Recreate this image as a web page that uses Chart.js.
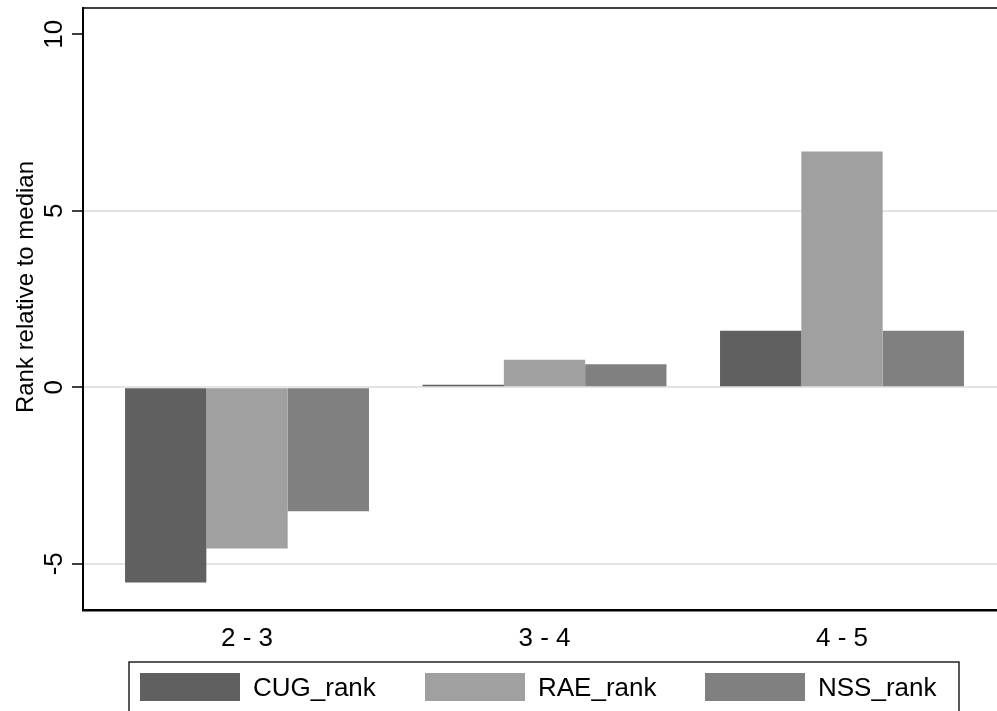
<!DOCTYPE html>
<html>
<head>
<meta charset="utf-8">
<script src="https://cdn.jsdelivr.net/npm/chart.js@4.4.1/dist/chart.umd.min.js"></script>
<style>
  html, body { margin: 0; padding: 0; background: #fff; }
  #wrap { width: 997px; height: 711px; position: relative; }
</style>
</head>
<body>
<div id="wrap"><canvas id="c"></canvas></div>
<script>
const categories = ['2 - 3', '3 - 4', '4 - 5'];
const seriesNames = ['CUG_rank', 'RAE_rank', 'NSS_rank'];
const cugRank = [-5.53, 0.07, 1.60];
const raeRank = [-4.57, 0.78, 6.68];
const nssRank = [-3.51, 0.65, 1.60];
const yTicks = [-5, 0, 5, 10];
const yTitle = 'Rank relative to median';

const FONT = "'Liberation Sans', Arial, Helvetica, sans-serif";
const colors = ['#606060', '#a0a0a0', '#808080'];
const seriesValues = [cugRank, raeRank, nssRank];

const datasets = seriesNames.map((name, s) => ({
  label: name,
  data: categories.map((c, i) => ({ x: i, y: seriesValues[s][i] })),
  backgroundColor: colors[s],
  borderWidth: 0,
  categoryPercentage: 0.82,
  barPercentage: 1.0
}));

const decor = {
  id: 'decor',
  afterDraw(chart) {
    const ctx = chart.ctx;
    const area = chart.chartArea;
    const ys = chart.scales.y;
    ctx.save();
    // top frame line
    ctx.strokeStyle = '#000';
    ctx.lineWidth = 1.5;
    ctx.beginPath();
    ctx.moveTo(area.left, area.top);
    ctx.lineTo(area.right, area.top);
    ctx.stroke();

    // y tick labels (rotated)
    ctx.fillStyle = '#000';
    ctx.font = '26px ' + FONT;
    ctx.textAlign = 'center';
    ctx.textBaseline = 'alphabetic';
    ys.ticks.forEach(t => {
      const py = ys.getPixelForValue(t.value);
      ctx.save();
      ctx.translate(62, py);
      ctx.rotate(-Math.PI / 2);
      ctx.fillText(String(t.value), 0, 0);
      ctx.restore();
    });

    // y title
    ctx.font = '24px ' + FONT;
    ctx.save();
    ctx.translate(33, 287);
    ctx.rotate(-Math.PI / 2);
    ctx.fillText(yTitle, 0, 0);
    ctx.restore();

    // legend
    ctx.strokeStyle = '#222';
    ctx.lineWidth = 1.5;
    ctx.strokeRect(129, 662, 830, 80);
    const swX = [140, 425, 705];
    ctx.font = '26px ' + FONT;
    ctx.textAlign = 'left';
    chart.data.datasets.forEach((ds, i) => {
      ctx.fillStyle = ds.backgroundColor;
      ctx.fillRect(swX[i], 673, 100, 28);
      ctx.fillStyle = '#000';
      ctx.fillText(ds.label, swX[i] + 113, 696);
    });
    ctx.restore();
  }
};

new Chart(document.getElementById('c'), {
  type: 'bar',
  data: { datasets },
  plugins: [decor],
  options: {
    responsive: true,
    maintainAspectRatio: false,
    devicePixelRatio: 1,
    animation: false,
    layout: { padding: { top: 8, left: 0, right: 0, bottom: 0 } },
    plugins: {
      legend: { display: false },
      tooltip: { enabled: false },
      title: { display: false }
    },
    scales: {
      x: {
        type: 'linear',
        min: -0.5513,
        max: 2.521,
        offset: false,
        afterFit(scale) { scale.height = 101; },
        afterBuildTicks(scale) { scale.ticks = categories.map((c, i) => ({ value: i })); },
        grid: { display: false, drawTicks: false },
        border: { display: true, color: '#000', width: 2.5 },
        ticks: {
          padding: 13,
          color: '#000',
          font: { family: FONT, size: 26 },
          maxRotation: 0,
          autoSkip: false,
          callback: (v) => categories[v] !== undefined ? categories[v] : ''
        }
      },
      y: {
        type: 'linear',
        min: -6.31,
        max: 10.745,
        afterFit(scale) { scale.width = 83; },
        afterBuildTicks(scale) { scale.ticks = yTicks.map(v => ({ value: v })); },
        grid: {
          color: (c) => (c.tick && c.tick.value === 10) ? 'rgba(0,0,0,0)' : '#e4e4e4',
          lineWidth: 2,
          drawTicks: true,
          tickLength: 11,
          tickColor: '#000',
          tickWidth: 1.5
        },
        border: { display: true, color: '#000', width: 2 },
        ticks: { display: false }
      }
    }
  }
});
</script>
</body>
</html>
